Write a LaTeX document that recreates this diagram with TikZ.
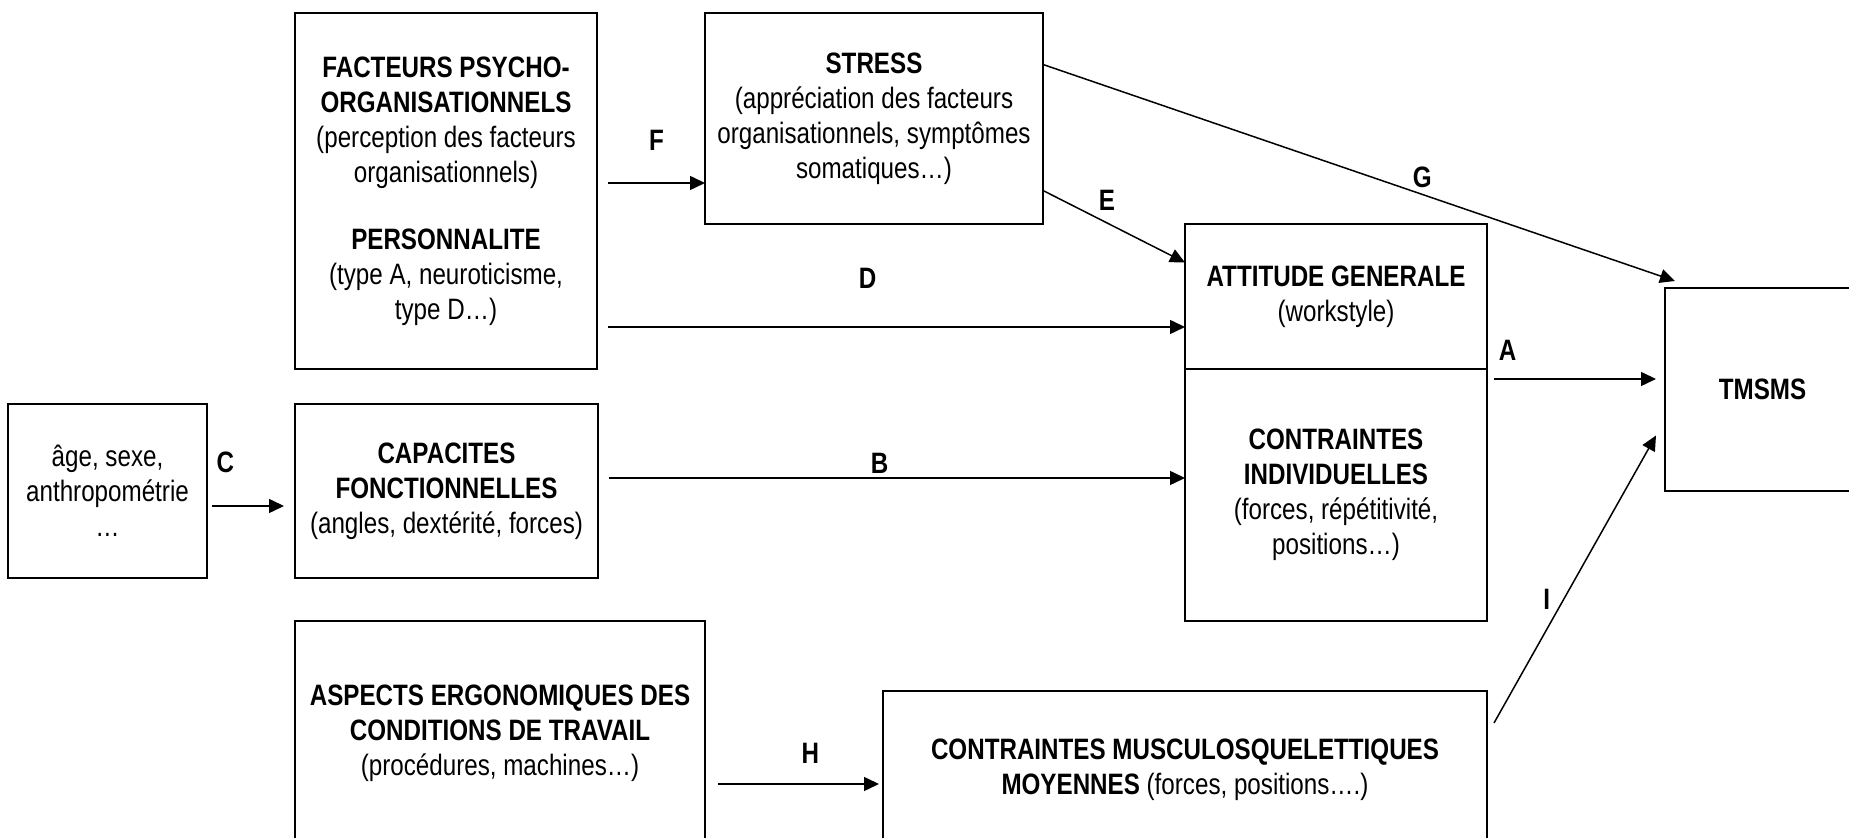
\documentclass[tikz,border=0pt]{standalone}
\usepackage{fontspec}
\setmainfont{Liberation Sans}[FakeStretch=0.82]
\usepackage{tikz}
\usetikzlibrary{arrows.meta,positioning}

\begin{document}
\begin{tikzpicture}[x=0.5pt,y=-0.5pt,>={Triangle[length=7.5pt,width=7pt]},
		every node/.style={font=\fontsize{14.75}{17.5}\selectfont},
		box/.style={draw,line width=1pt,outer sep=0pt,inner sep=0pt,align=center},
		lbl/.style={font=\fontsize{14.75}{17.5}\selectfont\bfseries},
		conn/.style={line width=0.75pt}]
		\useasboundingbox (0,0) rectangle (1849,838);
		\clip (0,0) rectangle (1849,838);

		\node[box,minimum width=151pt,minimum height=178pt] (facteurs) at (446,191)
			{\textbf{FACTEURS PSYCHO-}\\ \textbf{ORGANISATIONNELS}\\ (perception des facteurs\\ organisationnels)\\[16pt]
			\textbf{PERSONNALITE}\\ (type A, neuroticisme,\\ type D…)};
		\node[box,minimum width=169pt,minimum height=105.5pt] (stress) [right=54pt of facteurs.north east,anchor=north west]
			{\textbf{STRESS}\\ (appréciation des facteurs\\ organisationnels, symptômes\\ somatiques…)};
		\node[box,minimum width=151.5pt,minimum height=87pt] (capacites) [below=17.5pt of facteurs.south west,anchor=north west]
			{\textbf{CAPACITES}\\ \textbf{FONCTIONNELLES}\\ (angles, dextérité, forces)};
		\node[box,minimum width=99.5pt,minimum height=87pt] (ages) [left=44pt of capacites]
			{âge, sexe,\\ anthropométrie\\ …};
		\node[box,minimum width=205pt,minimum height=112pt] (aspects) [below=21.5pt of capacites.south west,anchor=north west]
			{\textbf{ASPECTS ERGONOMIQUES DES}\\ \textbf{CONDITIONS DE TRAVAIL}\\ (procédures, machines…)};
		\node[box,minimum width=151pt,minimum height=72.5pt] (attitude) at (1336,296.5)
			{\textbf{ATTITUDE GENERALE}\\ (workstyle)};
		\node[box,minimum width=151pt,minimum height=126pt] (contraintes) [below=0pt of attitude]
			{\textbf{CONTRAINTES}\\ \textbf{INDIVIDUELLES}\\ (forces, répétitivité,\\ positions…)};
		\node[box,minimum width=302pt,minimum height=79pt] (muscu) [below=35pt of contraintes.south east,anchor=north east]
			{\textbf{CONTRAINTES MUSCULOSQUELETTIQUES}\\ \textbf{MOYENNES} (forces, positions….)};
		\node[box,minimum width=97.5pt,minimum height=101.5pt] (tmsms) at (1762.5,389.5) {\textbf{TMSMS}};

		\path[->,conn]
		([xshift=5.5pt,yshift=4pt]facteurs.east) edge node[lbl,yshift=21.5pt] (lf) {F} ([yshift=4pt]facteurs.east -| stress.west)
		([xshift=5.5pt,yshift=-68pt]facteurs.east) edge node[lbl,pos=.45,yshift=24.5pt] (ld) {D} ([yshift=-68pt]facteurs.east -| attitude.west)
		([yshift=-36pt]stress.east) edge node[lbl,pos=.45,yshift=11.5pt] (le) {E} ([yshift=17pt]attitude.west)
		([yshift=27pt]stress.east) edge node[lbl,pos=.6,yshift=8.5pt] (lg) {G} ([xshift=5pt,yshift=3.5pt]tmsms.north west)
		([xshift=3.5pt,yshift=-5pt]contraintes.north east) edge[shorten >=4.5pt] node[lbl,pos=.08,yshift=14.5pt] (la) {A} ([yshift=-5pt]contraintes.north east -| tmsms.west)
		([xshift=5.5pt,yshift=6.5pt]capacites.east) edge node[lbl,pos=.47,yshift=7.5pt] (lb) {B} ([yshift=6.5pt]capacites.east -| contraintes.west)
		([xshift=2.5pt,yshift=-7.5pt]ages.east) edge[shorten >=5.5pt] node[lbl,pos=.16,yshift=22pt] (lc) {C} ([yshift=-7.5pt]ages.east -| capacites.west)
		([xshift=6.5pt,yshift=-25.5pt]aspects.east) edge[shorten >=2pt] node[lbl,pos=.56,yshift=15.5pt] (lh) {H} ([yshift=-25.5pt]aspects.east -| muscu.west)
		([xshift=3.5pt,yshift=-16pt]muscu.north east) edge node[lbl,pos=.43,xshift=-8.5pt] (li) {I} ([xshift=-4.5pt,yshift=-23pt]tmsms.west)
		;
	\end{tikzpicture}
\end{document}
